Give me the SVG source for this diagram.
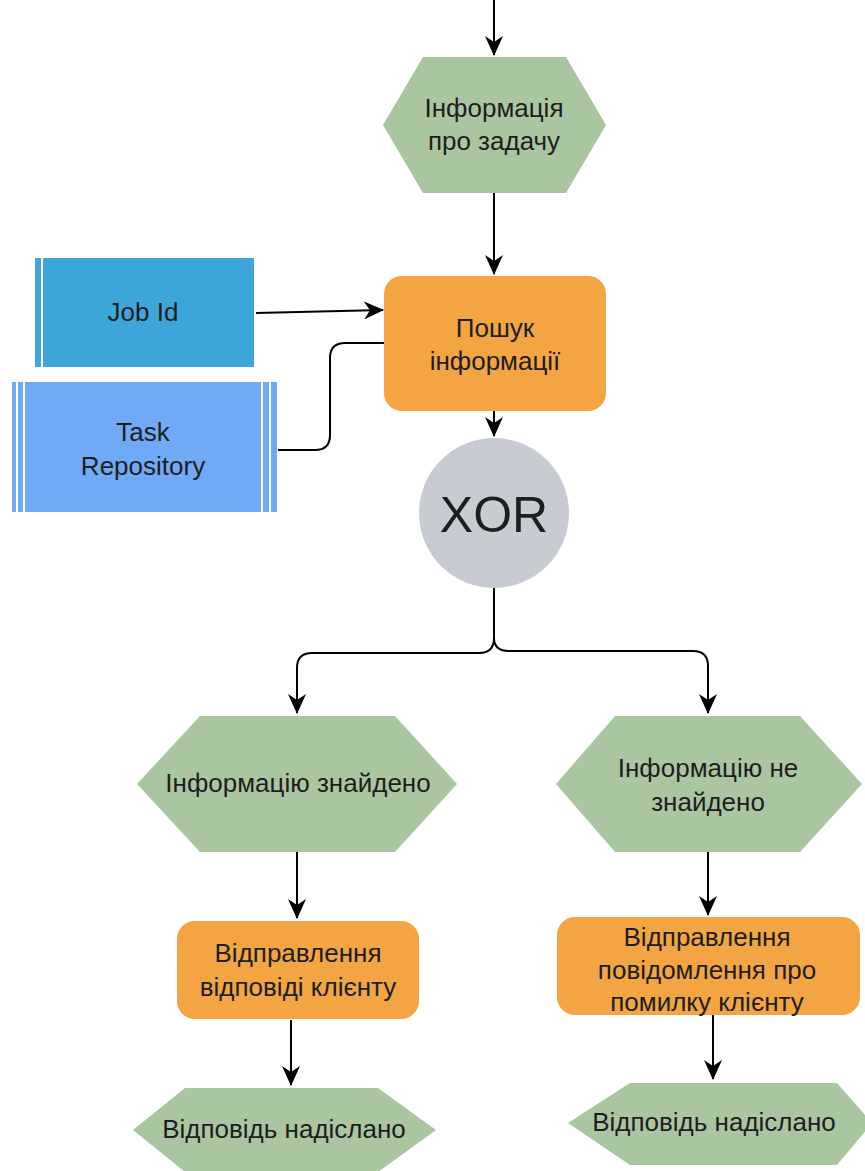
<svg xmlns="http://www.w3.org/2000/svg" width="865" height="1171" viewBox="0 0 865 1171">
<defs>
<marker id="arr" viewBox="0 0 20 18" refX="19" refY="9" markerWidth="20" markerHeight="18" markerUnits="userSpaceOnUse" orient="auto">
<path d="M0,0 L20,9 L0,18 L6,9 Z" fill="#000"/>
</marker>
<style>
text{font-family:"Liberation Sans",Arial,sans-serif;font-size:26px;fill:#1e1e1e;text-anchor:middle;dominant-baseline:central}
.ev{fill:#aac6a1}
.fn{fill:#f2a542}
.ln{fill:none;stroke:#000;stroke-width:2}
.ar{marker-end:url(#arr)}
.wl{stroke:#fff;stroke-width:2}
</style>
</defs>
<g id="connectors">
<path class="ln ar" d="M494,0 L494,55"/>
<path class="ln ar" d="M494,193 L494,274"/>
<path class="ln ar" d="M256,313 L383,310"/>
<path class="ln" d="M278,450 L315,450 Q330,450 330,435 L330,358 Q330,343 345,343 L384,343"/>
<path class="ln ar" d="M494,411 L494,436"/>
<path class="ln ar" d="M494,588 L494,638 Q494,653 479,653 L312,653 Q297,653 297,668 L297,713"/>
<path class="ln ar" d="M494,638 Q494,651 509,651 L693,651 Q708,651 708,666 L708,713"/>
<path class="ln ar" d="M297,852 L297,918"/>
<path class="ln ar" d="M708,852 L708,915"/>
<path class="ln ar" d="M291,1020 L291,1085"/>
<path class="ln ar" d="M713,1015 L713,1079"/>
</g>
<g id="n1">
<polygon class="ev" points="423,57 566,57 606,125 566,193 423,193 383,125"/>
<text x="494" y="108">Інформація</text>
<text x="494" y="141">про задачу</text>
</g>
<g id="jobid">
<rect x="35" y="258" width="219" height="109" fill="#3ea5d9"/>
<line class="wl" x1="42" y1="258" x2="42" y2="367"/>
<text x="143" y="312">Job Id</text>
</g>
<g id="taskrepo">
<rect x="12" y="382" width="265" height="130" fill="#70a9f5"/>
<line class="wl" x1="17" y1="382" x2="17" y2="512"/>
<line class="wl" x1="24" y1="382" x2="24" y2="512"/>
<line class="wl" x1="262" y1="382" x2="262" y2="512"/>
<line class="wl" x1="270" y1="382" x2="270" y2="512"/>
<text x="143" y="432">Task</text>
<text x="143" y="466">Repository</text>
</g>
<g id="search">
<rect class="fn" x="384" y="276" width="222" height="135" rx="18"/>
<text x="495" y="328">Пошук</text>
<text x="495" y="361">інформації</text>
</g>
<g id="xor">
<circle cx="494" cy="513" r="75" fill="#c8ccd2"/>
<text x="494" y="515" style="font-size:50px">XOR</text>
</g>
<g id="found">
<polygon class="ev" points="200,716 395,716 457,784 395,852 200,852 137,784"/>
<text x="298" y="783">Інформацію знайдено</text>
</g>
<g id="notfound">
<polygon class="ev" points="615,716 800,716 862,784 800,852 615,852 556,784"/>
<text x="708" y="768">Інформацію не</text>
<text x="708" y="802">знайдено</text>
</g>
<g id="sendok">
<rect class="fn" x="177" y="921" width="242" height="98" rx="18"/>
<text x="298" y="953">Відправлення</text>
<text x="298" y="987">відповіді клієнту</text>
</g>
<g id="senderr">
<rect class="fn" x="557" y="917" width="303" height="98" rx="18"/>
<text x="707" y="937">Відправлення</text>
<text x="707" y="970">повідомлення про</text>
<text x="707" y="1002">помилку клієнту</text>
</g>
<g id="sent1">
<polygon class="ev" points="185,1088 378,1088 436,1130 378,1172 185,1172 133,1130"/>
<text x="284" y="1129">Відповідь надіслано</text>
</g>
<g id="sent2">
<polygon class="ev" points="630,1083 837,1083 872,1123 837,1165 630,1165 568,1123"/>
<text x="714" y="1122">Відповідь надіслано</text>
</g>
</svg>
